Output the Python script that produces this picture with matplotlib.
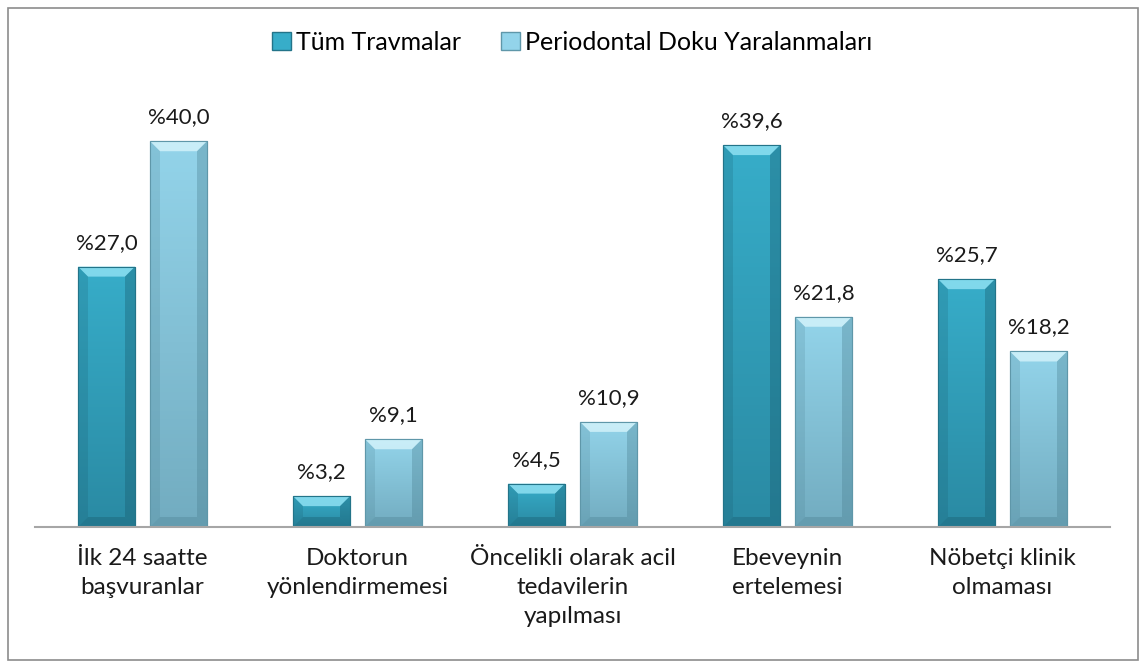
import numpy as np
import matplotlib
matplotlib.use("Agg")
import matplotlib.pyplot as plt
from matplotlib.patches import Rectangle, Polygon, Patch
from matplotlib.colors import to_rgb

plt.rcParams['font.family'] = ['Lato', 'DejaVu Sans']

categories = ["İlk 24 saatte\nbaşvuranlar", "Doktorun\nyönlendirmemesi",
              "Öncelikli olarak acil\ntedavilerin\nyapılması", "Ebeveynin\nertelemesi",
              "Nöbetçi klinik\nolmaması"]
tum = [27.0, 3.2, 4.5, 39.6, 25.7]
perio = [40.0, 9.1, 10.9, 21.8, 18.2]
series_names = ["Tüm Travmalar", "Periodontal Doku Yaralanmaları"]

W, H = 1144, 666
fig = plt.figure(figsize=(W / 100, H / 100), dpi=100)
fig.patches.append(Rectangle((8 / W, 6 / H), 1130 / W, 652 / H, transform=fig.transFigure,
                             fill=False, edgecolor='#8c8c8c', linewidth=1.2))

ax_l, ax_r, ax_b, ax_t = 35, 1110, 139, 573
ax = fig.add_axes([ax_l / W, ax_b / H, (ax_r - ax_l) / W, (ax_t - ax_b) / H])
ymax = 45
ax.set_xlim(-0.5, len(categories) - 0.5)
ax.set_ylim(0, ymax)

# pixel -> data scale for bevel size
px_x = len(categories) / (ax_r - ax_l)
px_y = ymax / (ax_t - ax_b)

styles = [
    dict(top='#37adc9', bot='#2a8aa3', edge='#237489', light='#8ee0f2', dark='#17586a'),
    dict(top='#93d4ea', bot='#72acc0', edge='#5f97a9', light='#d2f2fa', dark='#4a7f90'),
]


def mix(c1, c2, t):
    a, b = np.array(to_rgb(c1)), np.array(to_rgb(c2))
    return a * (1 - t) + b * t


def draw_bar(x0, w, h, st):
    rect = Rectangle((x0, 0), w, h, facecolor=st['top'], edgecolor=st['edge'], linewidth=0.8, zorder=2)
    ax.add_patch(rect)
    grad = np.linspace(0, 1, 100)
    img = np.array([mix(st['top'], st['bot'], t) for t in grad])[:, None, :]
    im = ax.imshow(img, extent=(x0, x0 + w, 0, h), origin='upper', aspect='auto', zorder=2.1)
    im.set_clip_path(rect)
    bx, by = 10 * px_x, 10 * px_y
    by = min(by, h / 2)
    bx = min(bx, w / 2)
    x1 = x0 + w
    # top bevel
    ax.add_patch(Polygon([(x0, h), (x1, h), (x1 - bx, h - by), (x0 + bx, h - by)],
                         closed=True, facecolor=st['light'], alpha=0.85, linewidth=0, zorder=2.2))
    # sides
    ax.add_patch(Polygon([(x0, h), (x0 + bx, h - by), (x0 + bx, by), (x0, 0)],
                         closed=True, facecolor=st['dark'], alpha=0.2, linewidth=0, zorder=2.2))
    ax.add_patch(Polygon([(x1, h), (x1 - bx, h - by), (x1 - bx, by), (x1, 0)],
                         closed=True, facecolor=st['dark'], alpha=0.35, linewidth=0, zorder=2.2))
    # bottom bevel
    ax.add_patch(Polygon([(x0, 0), (x1, 0), (x1 - bx, by), (x0 + bx, by)],
                         closed=True, facecolor=st['dark'], alpha=0.35, linewidth=0, zorder=2.2))
    ax.add_patch(Rectangle((x0, 0), w, h, fill=False, edgecolor=st['edge'], linewidth=0.8, zorder=2.3))


bw = 57 / 215
off = 36 / 215
x = np.arange(len(categories))
for i in range(len(categories)):
    for j, (vals, st) in enumerate([(tum, styles[0]), (perio, styles[1])]):
        xc = x[i] + (off if j else -off)
        draw_bar(xc - bw / 2, bw, vals[i], st)
        ax.annotate(f"%{vals[i]:.1f}".replace('.', ','), (xc, vals[i]), xytext=(0, 10),
                    textcoords='offset points', ha='center', va='bottom', fontsize=16, color='#1a1a1a')

for s in ['top', 'right', 'left']:
    ax.spines[s].set_visible(False)
ax.spines['bottom'].set_color('#a6a6a6')
ax.spines['bottom'].set_linewidth(1.5)
ax.set_yticks([])
ax.set_xticks(x)
ax.set_xticklabels(categories, fontsize=17.5, linespacing=1.47, va='top', color='#1a1a1a')
ax.tick_params(axis='x', length=0, pad=15)

handles = [Patch(facecolor=styles[0]['top'], edgecolor=styles[0]['edge']),
           Patch(facecolor=styles[1]['top'], edgecolor=styles[1]['edge'])]
fig.legend(handles, series_names, loc='center', bbox_to_anchor=(0.5, 1 - 42 / H), ncol=2,
           frameon=False, fontsize=18, handlelength=0.75, handleheight=0.75,
           handletextpad=0.2, columnspacing=1.6)

fig.savefig("out.png", dpi=100)
